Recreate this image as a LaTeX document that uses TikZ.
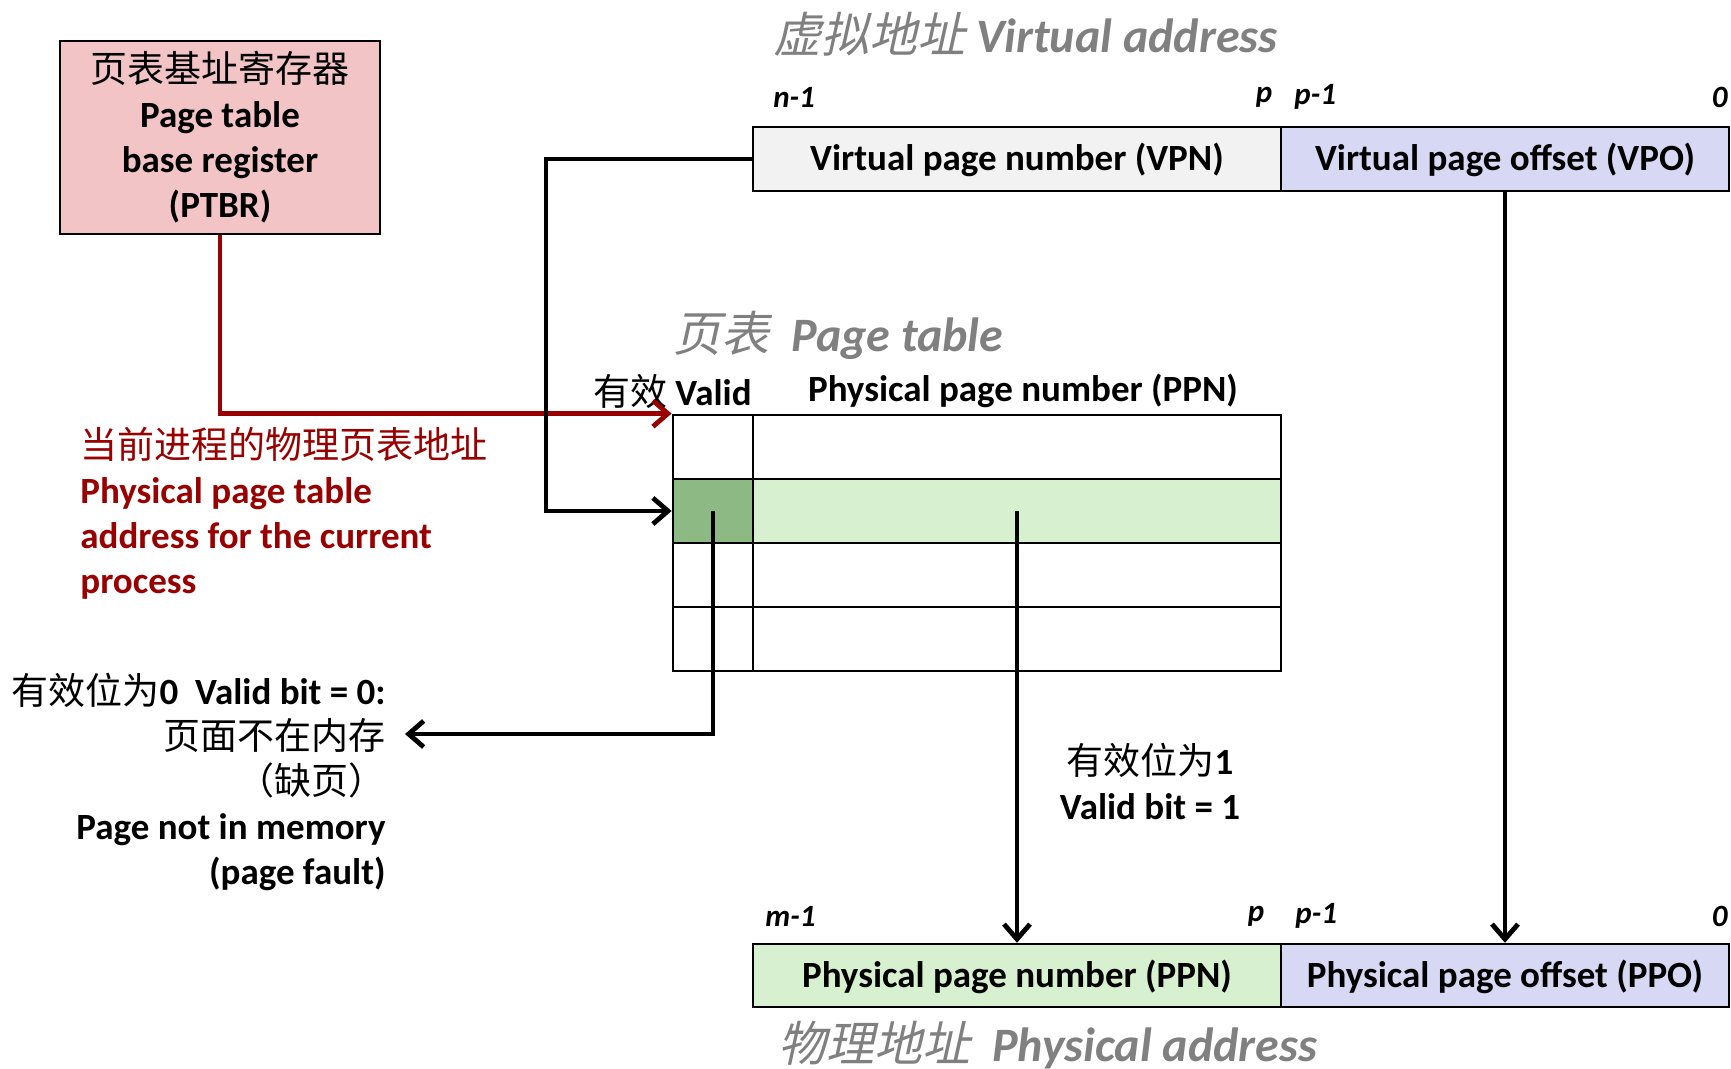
\documentclass[tikz,border=0pt]{standalone}
\usepackage{fontspec}
\setmainfont{Carlito}
\newfontfamily\cjk{Noto Sans CJK SC}
\newfontfamily\cjksl{Noto Sans CJK SC}[FakeSlant=0.22]
\usetikzlibrary{arrows.meta}
\definecolor{ptbrfill}{RGB}{242,196,198}
\definecolor{vpnfill}{RGB}{242,242,242}
\definecolor{offfill}{RGB}{214,216,244}
\definecolor{greenlight}{RGB}{214,240,208}
\definecolor{greendark}{RGB}{141,186,132}
\definecolor{ptred}{RGB}{153,0,0}
\definecolor{titlegray}{RGB}{128,128,128}
\newcommand\zh[1]{{\cjk\mdseries #1}}
\newcommand\zhsl[1]{{\cjksl\mdseries #1}}
\begin{document}
\begin{tikzpicture}[x=0.5pt,y=-0.5pt,
  box/.style={draw, line width=1.2pt, minimum height=32pt, inner sep=0pt, text height=12pt, text depth=0pt, font=\bfseries\fontsize{18.5}{22.5}\selectfont},
  cell/.style={draw, line width=1.4pt, minimum height=32pt, inner sep=0pt},
  conn/.style={line width=2.4pt, -{Straight Barb[length=7.5pt,width=13pt]}},
  bit/.style={font=\bfseries\itshape\fontsize{15.5}{18}\selectfont, inner sep=0pt},
  title/.style={text=titlegray, inner sep=0pt, font=\bfseries\itshape\fontsize{24}{28}\selectfont},
  lbl/.style={inner sep=0pt, font=\bfseries\fontsize{18.5}{22.5}\selectfont}
]
\useasboundingbox (0,0) rectangle (1731,1069);

% PTBR
\node[draw, line width=1.2pt, inner sep=0pt, fill=ptbrfill, minimum width=160pt, minimum height=96.5pt, align=center, font=\bfseries\fontsize{18.5}{22.5}\selectfont] (ptbr) at (220,137.5)
  {\zh{页表基址寄存器}\\Page table\\base register\\(PTBR)};

% Virtual address
\node[title, anchor=west] (vatitle) at (773,34) {\zhsl{虚拟地址} Virtual address};
\node[bit, anchor=west] (van1) at (773,97) {n-1};
\node[bit] (vap) at (1264,97) {p};
\node[bit, anchor=west] (vap1) at (1294,97) {p-1};
\node[bit, anchor=east] (va0) at (1728,97) {0};
\node[box, fill=vpnfill, minimum width=264pt] (vpn) at (1017,159) {Virtual page number (VPN)};
\node[box, fill=offfill, minimum width=224pt] (vpo) at (1505,159) {Virtual page offset (VPO)};

% Page table
\node[title, anchor=west] (pttitle) at (673,335) {\zhsl{页表}\ \ Page table};
\node[lbl, anchor=east] (hvalid) at (752,391) {\zh{有效} Valid};
\node[lbl] (hppn) at (1023,391) {Physical page number (PPN)};
\node[cell, minimum width=40pt] (v1) at (713,447) {};
\node[cell, minimum width=264pt] (p1) at (1017,447) {};
\node[cell, fill=greendark, minimum width=40pt] (v2) at (713,511) {};
\node[cell, fill=greenlight, minimum width=264pt] (p2) at (1017,511) {};
\node[cell, minimum width=40pt] (v3) at (713,575) {};
\node[cell, minimum width=264pt] (p3) at (1017,575) {};
\node[cell, minimum width=40pt] (v4) at (713,639) {};
\node[cell, minimum width=264pt] (p4) at (1017,639) {};

% Red text
\node[lbl, text=ptred, anchor=west, align=left] (redtxt) at (80,513)
  {\zh{当前进程的物理页表地址}\\Physical page table\\address for the current\\process};

% Left text
\node[lbl, anchor=east, align=right] (fault) at (386,782)
  {\zh{有效位为}0\ \ Valid bit = 0:\\\zh{页面不在内存}\\\zh{（缺页）}\\Page not in memory\\(page fault)};

% Valid=1 text
\node[lbl, align=center] (valid1) at (1150,781) {\zh{有效位为}1\\Valid bit = 1};

% Physical address
\node[bit, anchor=west] (pam1) at (765,916) {m-1};
\node[bit] (pap) at (1256,916) {p};
\node[bit, anchor=west] (pap1) at (1295,916) {p-1};
\node[bit, anchor=east] (pa0) at (1728,916) {0};
\node[box, fill=greenlight, minimum width=264pt, minimum height=31.5pt] (ppn) at (1017,975.5) {Physical page number (PPN)};
\node[box, fill=offfill, minimum width=224pt, minimum height=31.5pt] (ppo) at (1505,975.5) {Physical page offset (PPO)};
\node[title, anchor=west] (patitle) at (778,1045) {\zhsl{物理地址}\ \ Physical address};

% Connectors
\coordinate (bendA) at (546,159);
\coordinate (faultend) at (405,734);
\draw[conn, draw=ptred] (ptbr.south) |- (v1.north west);
\draw[conn] (vpn.west) -- (bendA) |- (v2.west);
\draw[conn] (v2.center) |- (faultend);
\draw[conn] (p2.center) -- (ppn.north);
\draw[conn] (vpo.south) -- (ppo.north);
\end{tikzpicture}
\end{document}
